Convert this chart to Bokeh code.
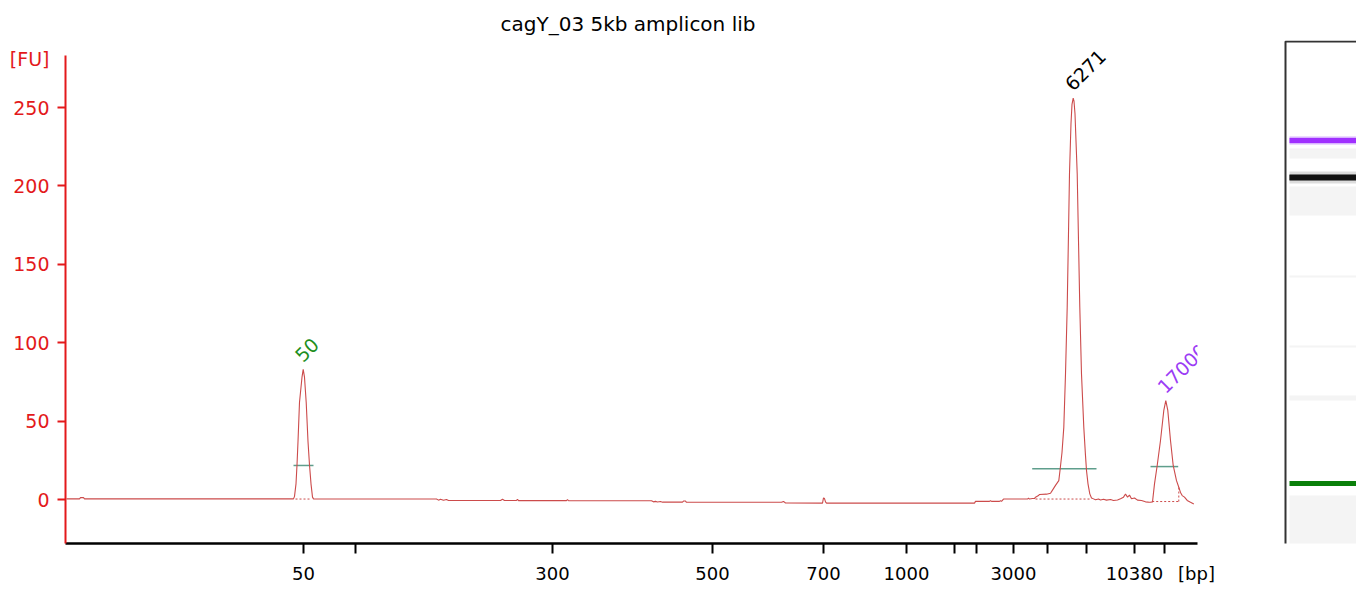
from math import pi
from bokeh.plotting import figure
from bokeh.models import Range1d, FixedTicker
from bokeh.core.properties import value
from bokeh.embed import file_html
from bokeh.resources import INLINE

FONT = "DejaVu Sans"

# ---- electropherogram trace (migration time, fluorescence units) ----
time = [15.1, 16.4, 16.5, 16.8, 16.9, 37.8, 37.9, 38.05, 38.15, 38.25, 38.4, 38.65, 38.77,
        38.9, 39.07, 39.25, 39.4, 39.55, 39.7, 39.8, 52.1, 52.3, 52.5, 52.8, 53.1, 53.3,
        58.5, 58.7, 58.9, 60.1, 60.2, 60.3, 65.1, 65.2, 65.3, 73.6, 73.8, 74.0, 74.2, 74.5,
        74.7, 76.7, 76.8, 77.0, 77.1, 86.6, 86.8, 87.0, 90.7, 90.8, 90.9, 91.0, 91.1, 105.9,
        106.0, 107.4, 107.5, 107.6, 108.4, 108.5, 108.6, 108.8, 111.2, 111.3, 111.4, 111.7,
        111.9, 112.0, 112.3, 112.4, 113.1, 113.5, 113.7, 114.0, 114.33, 114.45, 114.65,
        114.83, 115.0, 115.17, 115.3, 115.4, 115.55, 115.65, 115.77, 115.85, 115.95, 116.17,
        116.3, 116.43, 116.6, 116.83, 117.0, 117.1, 117.25, 117.43, 117.6, 117.8, 118.0,
        118.3, 118.5, 118.8, 119.1, 119.5, 119.8, 120.2, 120.5, 120.8, 121.0, 121.2, 121.4,
        121.6, 121.9, 122.2, 122.6, 123.0, 123.3, 123.5, 123.7, 123.9, 124.17, 124.5,
        124.83, 125.03, 125.23, 125.5, 125.77, 126.1, 126.33, 126.5, 126.67, 126.9, 127.17,
        127.5, 127.83]
fu = [0.4, 0.4, 1.2, 1.2, 0.4, 0.4, 2, 10, 22, 37, 62, 78, 83,
      78, 62, 37, 22, 10, 1.5, 0.4, 0.3, -0.4, 0.2, -0.5, 0.0, -0.6,
      -0.6, 0.2, -0.6, -0.6, 0.1, -0.7, -0.7, 0.0, -0.8, -0.8, -1.5, -1.2, -1.6, -1.3,
      -1.7, -1.7, -1.0, -1.0, -1.8, -1.8, -1.2, -2.2, -2.3, 1.0, 0.6, -1.5, -2.3, -2.3,
      -1.2, -1.2, -0.8, -1.2, -1.2, -0.7, -1.2, 0.3, 0.3, 0.9, 0.3, 0.6,
      0.6, 1.5, 2.5, 3.2, 3.4, 4, 6, 9, 12, 18.5, 30,
      46, 80, 122.6, 170, 208, 240, 252, 256, 254, 246, 208,
      165, 122.6, 80, 46, 28, 18.5, 10, 3.6, 1.0, 0.4, -0.2,
      0.3, -0.3, 0.2, -0.4, 0.0, -0.6, -0.3, 0.5, 1.5, 3.5, 1.5, 2.8,
      0.5, 1.0, -0.4, -0.6, -1.5, -1.7, -1.8, -1.5, 10, 21.7, 37.6,
      56.8, 63, 56.8, 37.6, 21.7, 12, 7.8, 4.5, 2.5, 1.5, -0.6,
      -1.8, -2.8]

# ---- called peaks ----
peak_label = ["50", "6271", "17000"]
peak_time = [38.77, 115.77, 125.03]
peak_fu = [83, 256, 63]
peak_color = ["#1f8f1f", "#000000", "#9b3cf5"]

# peak region bars and baselines
region_start = [37.8, 111.67, 123.5]
region_end = [39.8, 118.1, 126.27]
region_level = [21.7, 19.6, 21.0]
base_x0 = [38.0, 112.0, 123.67, 126.33]
base_x1 = [39.6, 117.5, 126.33, 126.33]
base_y0 = [0.3, 0.3, -1.3, -1.3]
base_y1 = [0.3, 0.3, -1.3, 8.0]

# ---- axes ----
fu_tick = [0, 50, 100, 150, 200, 250]
fu_tick_label = ["0", "50", "100", "150", "200", "250"]
fu_unit_pos, fu_unit = 281.25, "[FU]"
bp_tick_time = [38.8, 44.0, 63.7, 79.7, 90.8, 99.1, 103.9, 106.1, 109.8, 113.2, 117.1, 121.9, 124.9]
bp_tick_label = ["50", "", "300", "500", "700", "1000", "", "", "3000", "", "", "10380", ""]
bp_unit_pos, bp_unit = 128.1, "[bp]"
time_start, time_end = 15, 128.2
fu_lo, fu_hi = -28.06, 283.16

# ---- gel image (lane position from top of gel box) ----
gel_band_pos = [100, 137, 443]
gel_band_color = ["#a030ff", "#111111", "#0a800a"]
gel_shade_top = [108, 146, 235, 305, 355, 455]
gel_shade_bottom = [118, 175, 237, 307, 360, 538]

RED = "#e3191b"
TRACE = "#cc4b4b"

p = figure(width=1356, height=605, x_range=Range1d(time_start, 144.1), y_range=Range1d(fu_lo, 292.73),
           toolbar_location=None, output_backend="svg", title="cagY_03 5kb amplicon lib",
           min_border_left=65, min_border_right=0, min_border_top=40, min_border_bottom=62)
p.outline_line_color = None
p.grid.visible = False
p.title.align = "left"
p.title.offset = 435
p.title.text_color = "black"
p.title.text_font = FONT
p.title.text_font_size = "20px"
p.title.text_font_style = "normal"

p.extra_x_ranges = {"gel_x": Range1d(-1220, 71)}
p.extra_y_ranges = {"gel_y": Range1d(503, 0)}

# y axis: labels on major ticks (no marks), marks drawn as minor ticks
p.yaxis.bounds = (fu_lo, fu_hi)
p.yaxis.ticker = FixedTicker(ticks=fu_tick + [fu_unit_pos], minor_ticks=fu_tick)
p.yaxis.major_label_overrides = dict(zip(fu_tick + [fu_unit_pos], fu_tick_label + [fu_unit]))
p.yaxis.axis_line_color = RED
p.yaxis.axis_line_width = 2
p.yaxis.major_tick_line_color = None
p.yaxis.major_tick_out = 0
p.yaxis.major_tick_in = 0
p.yaxis.minor_tick_line_color = RED
p.yaxis.minor_tick_line_width = 2
p.yaxis.minor_tick_out = 8
p.yaxis.minor_tick_in = 0
p.yaxis.major_label_text_color = RED
p.yaxis.major_label_text_font = FONT
p.yaxis.major_label_text_font_size = "19px"
p.yaxis.major_label_standoff = 8

p.xaxis.bounds = (time_start, time_end)
p.xaxis.ticker = FixedTicker(ticks=bp_tick_time + [bp_unit_pos], minor_ticks=bp_tick_time)
p.xaxis.major_label_overrides = dict(zip(bp_tick_time + [bp_unit_pos], bp_tick_label + [bp_unit]))
p.xaxis.axis_line_color = "black"
p.xaxis.axis_line_width = 2.5
p.xaxis.major_tick_line_color = None
p.xaxis.major_tick_out = 0
p.xaxis.major_tick_in = 0
p.xaxis.minor_tick_line_color = "black"
p.xaxis.minor_tick_line_width = 2
p.xaxis.minor_tick_out = 10
p.xaxis.minor_tick_in = 0
p.xaxis.major_label_text_color = "black"
p.xaxis.major_label_text_font = FONT
p.xaxis.major_label_text_font_size = "18px"
p.xaxis.major_label_standoff = 9

p.segment(x0=region_start, x1=region_end, y0=region_level, y1=region_level,
          line_color="#5f9e8c", line_width=1.5)
p.segment(x0=base_x0, x1=base_x1, y0=base_y0, y1=base_y1,
          line_color=TRACE, line_width=1, line_dash="2 2")
p.line(time, fu, line_color=TRACE, line_width=1.1)

p.text(x=peak_time, y=peak_fu, text=peak_label, angle=pi / 4, text_align="left",
       text_baseline="bottom", x_offset=0, y_offset=-6, text_color=peak_color,
       text_font=value(FONT), text_font_size="19px")

# the electropherogram panel ends at the last time point: peak labels are cut there
p.quad(left=time_end, right=137, top=300, bottom=fu_lo, fill_color="white", line_color=None)

# gel lane
p.quad(x_range_name="gel_x", y_range_name="gel_y", left=0, right=200, top=1, bottom=700,
       fill_color="white", line_color="#333333", line_width=2)
p.quad(x_range_name="gel_x", y_range_name="gel_y", left=4, right=200, top=gel_shade_top,
       bottom=gel_shade_bottom, fill_color="#f4f4f4", line_color=None)
p.quad(x_range_name="gel_x", y_range_name="gel_y", left=4, right=200,
       top=[pos - 6 for pos in gel_band_pos[1:2]], bottom=[pos + 6 for pos in gel_band_pos[1:2]],
       fill_color="#9a9a9a", fill_alpha=0.35, line_color=None)
p.quad(x_range_name="gel_x", y_range_name="gel_y", left=4, right=200,
       top=[pos - 3.5 for pos in gel_band_pos[1:2]], bottom=[pos + 3.5 for pos in gel_band_pos[1:2]],
       fill_color="#444444", fill_alpha=0.7, line_color=None)
p.quad(x_range_name="gel_x", y_range_name="gel_y", left=4, right=200,
       top=[pos - 4 for pos in gel_band_pos[0:1]], bottom=[pos + 4 for pos in gel_band_pos[0:1]],
       fill_color="#d9b3ff", line_color=None)
p.quad(x_range_name="gel_x", y_range_name="gel_y", left=4, right=200,
       top=[pos - 2.5 for pos in gel_band_pos], bottom=[pos + 2.5 for pos in gel_band_pos],
       fill_color=gel_band_color, line_color=None)

open("out.html", "w").write(file_html(p, INLINE))
